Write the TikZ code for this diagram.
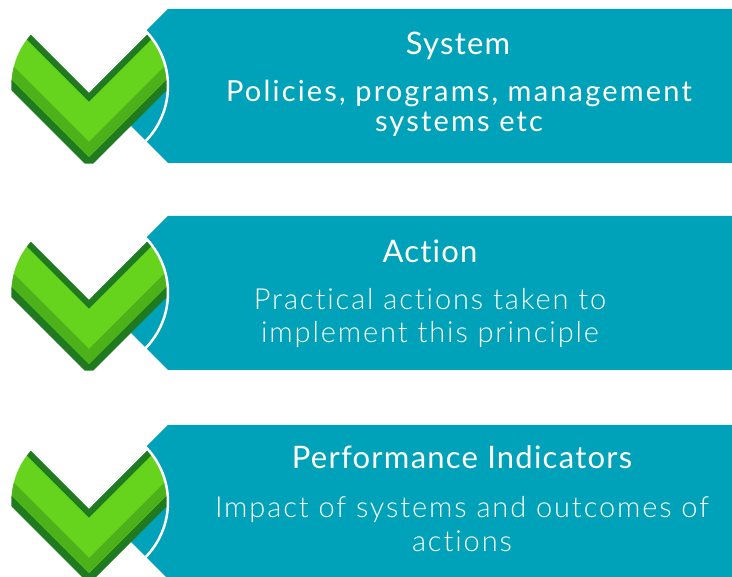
\documentclass[tikz,border=0pt]{standalone}
\usepackage{fontspec}
\setmainfont{Lato}
\newfontfamily\titlef[LetterSpace=4,Ligatures=NoCommon]{Lato}
\newfontfamily\regf[LetterSpace=7.5,Ligatures=NoCommon]{Lato}
\newfontfamily\lightf[LetterSpace=6.5,Ligatures=NoCommon]{Lato Light}
\definecolor{tealbox}{HTML}{00A2B9}
\definecolor{darkg}{HTML}{1F7A20}
\definecolor{lightg}{HTML}{66D41C}
\definecolor{midg}{HTML}{4DB21A}
\begin{document}
\begin{tikzpicture}[x=1pt,y=-1pt]
\tikzset{
  box/.style={fill=tealbox},
  ttl/.style={text=white, anchor=base, inner sep=0pt, font=\titlef\fontsize{31}{31}\selectfont},
  bodyr/.style={text=white, anchor=base, inner sep=0pt, font=\regf\fontsize{29}{29}\selectfont},
  bodyl/.style={text=white, anchor=base, inner sep=0pt, font=\lightf\fontsize{29}{29}\selectfont},
  checkmark/.pic={
    \begin{scope}
      \clip (0,0) circle (79);
      \fill[white] (-120,-200) -- (-120,-113) -- (0,7) -- (120,-113) -- (120,-200) -- cycle;
      \fill[darkg] (-120,-113) -- (0,7) -- (120,-113) -- (120,-38) -- (0,82) -- (-120,-38) -- cycle;
      \fill[lightg] (-120,-104) -- (0,16) -- (120,-104) -- (120,-49) -- (0,71) -- (-120,-49) -- cycle;
      \fill[midg] (-120,-64) -- (0,56) -- (120,-64) -- (120,-49) -- (0,71) -- (-120,-49) -- cycle;
    \end{scope}
    \draw[white, line width=2.5pt] (0,0) circle (79);
  }
}
\useasboundingbox (0,0) rectangle (732,577);
% row 1
\fill[box] (168,9) -- (732,9) -- (732,163) -- (168,163) -- (91,86) -- cycle;
\pic at (89,86) {checkmark};
\node[ttl] (t1) at (458,55) {System};
\node[bodyr] (b1a) at (459,102) {Policies, programs, management};
\node[bodyr] (b1b) at (459,132) {systems etc};
% row 2
\fill[box] (168,216) -- (732,216) -- (732,370) -- (168,370) -- (91,293) -- cycle;
\pic at (89,293) {checkmark};
\node[ttl] (t2) at (430,263) {Action};
\node[bodyl] (b2a) at (430,310) {Practical actions taken to};
\node[bodyl] (b2b) at (430,343) {implement this principle};
% row 3
\fill[box] (168,425) -- (732,425) -- (732,579) -- (168,579) -- (91,502) -- cycle;
\pic at (89,502) {checkmark};
\node[ttl] (t3) at (462,469) {Performance Indicators};
\node[bodyl] (b3a) at (462,518) {Impact of systems and outcomes of};
\node[bodyl] (b3b) at (462,552) {actions};
\end{tikzpicture}
\end{document}
